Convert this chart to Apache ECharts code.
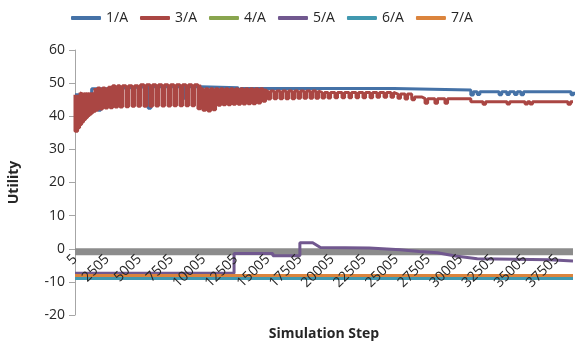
<!DOCTYPE html>
<html>
<head>
<meta charset="utf-8">
<script src="https://cdn.jsdelivr.net/npm/echarts@6/dist/echarts.min.js"></script>
<style>
html, body { margin: 0; padding: 0; background: #fff; }
#chart { width: 579px; height: 341px; }
</style>
</head>
<body>
<div id="chart"></div>
<script>
var seriesNames = ["1/A", "3/A", "4/A", "5/A", "6/A", "7/A"];
var colors = ["#4572A7", "#AA4643", "#89A54E", "#71588F", "#4198AF", "#DB843D"];
var stepMin = 5, stepMax = 38750, stepTick = 2500;
var yTicks = { min: -20, max: 60, interval: 10 };

// grey band under the zero line
var zeroBand = [[5, -0.9], [38750, -0.9]];

// 1/A: level changes [step, value] and short dips [step, low value]
var a1Levels = [[5, 46.5], [1300, 48.3], [2700, 48.9], [9800, 48.6], [12800, 48.4], [24800, 47.9], [31000, 47.4]];
var a1Dips = [[700, 40.5], [900, 41], [1800, 41.8], [5700, 42.4], [8500, 45.4], [12700, 46],
  [30800, 46.4], [31300, 46.6], [33000, 46.5], [33600, 46.6], [34200, 46.6], [34700, 46.5], [38600, 46.5]];

// 3/A
var a3Levels = [[5, 46.5], [400, 47.2], [1560, 48.5], [2700, 49.2], [5000, 49.5], [9700, 48.3],
  [14800, 47.6], [19100, 47.2], [24800, 46.7], [26200, 45.8], [27000, 45.3], [30800, 44.4]];
var a3Dips = [[5, 35.5], [160, 36.5], [316, 37.5], [470, 38.3], [630, 39], [780, 39.6], [940, 40.2],
  [1090, 40.7], [1250, 41.2], [1400, 41.5], [1560, 41.8], [1950, 42.2], [2340, 42.5], [2730, 42.6],
  [3120, 42.8], [3500, 42.8], [3970, 42.9], [4440, 43], [4900, 43], [5370, 43], [5840, 43], [6300, 43.1],
  [6770, 43.1], [7240, 43.1], [7700, 43.2], [8170, 43.2], [8640, 43.2], [9100, 43.2], [9570, 42.3],
  [9960, 41.8], [10350, 41.6], [10740, 42], [11130, 43.3], [11520, 43.5], [11910, 43.5], [12300, 43.6],
  [12690, 43.6], [13080, 43.7], [13460, 43.8], [13850, 43.8], [14240, 44], [14630, 44.5], [15020, 45.2],
  [15490, 45.3], [15950, 45.3], [16420, 45.3], [16890, 45.3], [17350, 45.4], [17820, 45.4], [18290, 45.4],
  [18750, 45.4], [19220, 45.5], [19690, 45.5], [20230, 45.6], [20780, 45.6], [21320, 45.6], [21870, 45.6],
  [22410, 45.6], [22960, 45.6], [23500, 45.7], [24050, 45.7], [24590, 45.7], [25130, 45.4], [25680, 45.2],
  [26220, 45.0], [27240, 43.9], [28010, 43.9], [28790, 43.9], [31750, 43.6], [33620, 43.7], [35020, 43.7],
  [35400, 43.7], [38360, 43.6]];

// 4/A, 6/A, 7/A are flat
var a4 = [[5, -8.1], [38750, -8.1]];
var a6 = [[5, -9], [38750, -9]];
var a7 = [[5, -8.1], [38750, -8.1]];

// 5/A
var a5 = [[5, -7.4], [12380, -7.4], [12380, -1.4], [15400, -1.4], [15400, -2.1], [17500, -2.1], [17500, 1.8],
  [18500, 1.8], [19100, 0.4], [22900, 0.2], [25300, -0.3], [26800, -0.8], [28200, -1.2], [29600, -2.2],
  [31300, -3.0], [36900, -3.3], [37000, -3.6], [38750, -3.7]];

function levelAt(levels, s) {
  var v = levels[0][1];
  for (var i = 0; i < levels.length; i++) {
    if (levels[i][0] <= s) v = levels[i][1];
  }
  return v;
}

function buildSeries(levels, dips, width) {
  var ev = [];
  levels.forEach(function(l, i) { if (i > 0) ev.push({ s: l[0], t: 0 }); });
  dips.forEach(function(d) { ev.push({ s: d[0], t: 1, low: d[1] }); });
  ev.sort(function(a, b) { return a.s - b.s; });
  var pts = [[stepMin, levelAt(levels, stepMin)]];
  ev.forEach(function(e) {
    if (e.t === 0) {
      pts.push([e.s, levelAt(levels, e.s - 1)]);
      pts.push([e.s, levelAt(levels, e.s)]);
    } else {
      pts.push([e.s, levelAt(levels, e.s)]);
      pts.push([e.s, e.low]);
      pts.push([e.s + width, e.low]);
      pts.push([e.s + width, levelAt(levels, e.s + width)]);
    }
  });
  pts.push([stepMax, levelAt(levels, stepMax)]);
  return pts;
}

var seriesData = [
  buildSeries(a1Levels, a1Dips, 200),
  buildSeries(a3Levels, a3Dips, 200),
  a4, a5, a6, a7
];

var font = "'Open Sans', sans-serif";
var myChart = echarts.init(document.getElementById("chart"));

var series = [{
  name: "band",
  type: "line",
  data: zeroBand,
  symbol: "none",
  silent: true,
  lineStyle: { color: "#8c8c8c", width: 7 },
  z: 1
}];
for (var i = 0; i < seriesNames.length; i++) {
  series.push({
    name: seriesNames[i],
    type: "line",
    data: seriesData[i],
    symbol: "none",
    lineStyle: { color: colors[i], width: 3 },
    itemStyle: { color: colors[i] },
    z: 2
  });
}

var option = {
  animation: false,
  textStyle: { fontFamily: font },
  legend: {
    data: seriesNames,
    left: 66,
    top: 6,
    icon: "roundRect",
    itemWidth: 30,
    itemHeight: 4,
    itemGap: 12,
    textStyle: { color: "#262626", fontSize: 14, fontFamily: font }
  },
  grid: { left: 75, right: 6, top: 50, bottom: 26, containLabel: false, outerBoundsMode: "none" },
  xAxis: {
    type: "value",
    min: stepMin,
    max: stepMax,
    interval: stepTick,
    z: 10,
    // axis sits at y = 0, which is 66 px above the grid bottom
    offset: -66,
    name: "Simulation Step",
    nameLocation: "middle",
    nameGap: 78,
    nameTextStyle: { color: "#262626", fontSize: 14, fontWeight: "bold", fontFamily: font },
    axisLine: { show: true, onZero: false, lineStyle: { color: "rgba(0,0,0,0)" } },
    axisTick: { show: false },
    splitLine: { show: false },
    axisLabel: {
      rotate: 45,
      margin: 8,
      color: "#262626",
      fontSize: 14,
      fontFamily: font,
      showMaxLabel: false,
      formatter: function(v) { return String(v); }
    }
  },
  yAxis: {
    type: "value",
    min: yTicks.min,
    max: yTicks.max,
    interval: yTicks.interval,
    name: "Utility",
    nameLocation: "middle",
    nameGap: 54,
    nameTextStyle: { color: "#262626", fontSize: 14, fontWeight: "bold", fontFamily: font },
    axisLine: { show: true, lineStyle: { color: "#a6a6a6", width: 1 } },
    axisTick: { show: true, length: 6, lineStyle: { color: "#a6a6a6" } },
    splitLine: { show: false },
    axisLabel: { color: "#262626", fontSize: 14, margin: 10, fontFamily: font }
  },
  series: series
};
myChart.setOption(option);
</script>
</body>
</html>
